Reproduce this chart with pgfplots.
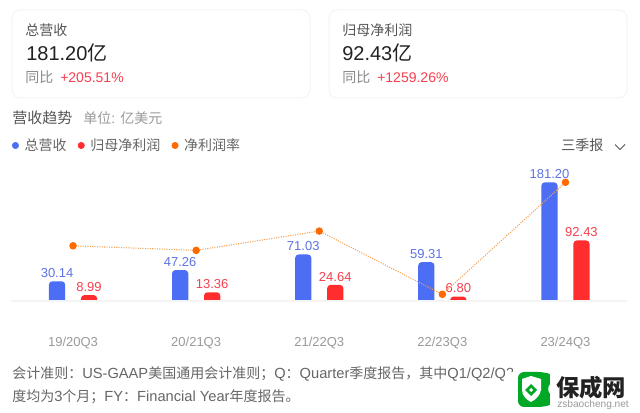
\documentclass[border=0pt]{standalone}
\usepackage{pgfplots}
\pgfplotsset{compat=1.18}
\usepackage{pgfplotstable}
\usepackage{fontspec}
\setmainfont{Liberation Sans}
\newfontfamily\cjkf{Noto Sans CJK SC}
\newcommand\zh[1]{{\cjkf\fontsize{10.5pt}{10.5pt}\selectfont #1}}
\newcommand\fsz[1]{\fontsize{#1pt}{#1pt}\selectfont}
\definecolor{cblue}{HTML}{4C6EF5}
\definecolor{cred}{HTML}{FF2D2D}
\definecolor{lblue}{HTML}{5F73E6}
\definecolor{lred}{HTML}{F5404F}
\definecolor{corange}{HTML}{FF6A00}
\definecolor{cline}{HTML}{F5A050}
\definecolor{cardb}{HTML}{F4F4F5}
\definecolor{tdark}{HTML}{222222}
\definecolor{tmid}{HTML}{555555}
\definecolor{tgrey}{HTML}{8A8A8A}
\definecolor{tlight}{HTML}{9A9A9A}
\definecolor{tfoot}{HTML}{666666}
\pgfplotstableread{
x y label
0 30.14 30.14
1 47.26 47.26
2 71.03 71.03
3 59.31 59.31
4 181.20 181.20
}\revenue
\pgfplotstableread{
x y label
0 8.99 8.99
1 13.36 13.36
2 24.64 24.64
3 6.80 6.80
4 92.43 92.43
}\profit
\pgfplotstableread{
x y
0 28.6
1 27.0
2 33.8
3 11.5
4 51.0
}\margin
\begin{document}
\begin{tikzpicture}[x=0.75pt,y=-0.75pt]
\path[use as bounding box] (0,0) rectangle (640,413);
\fill[white] (0,0) rectangle (640,413);
% cards
\draw[cardb,line width=0.75pt,rounded corners=6pt] (12,10) rectangle (310,98);
\draw[cardb,line width=0.75pt,rounded corners=6pt] (329,10) rectangle (627,98);
\node[anchor=base west,inner sep=0,text=tmid] at (25,35.5) {\zh{总营收}};
\node[anchor=base west,inner sep=0,text=tdark] at (26,61) {\fsz{15}181.20{\cjkf\fsz{15}亿}};
\node[anchor=base west,inner sep=0,text=tgrey] at (25,83) {\zh{同比}};
\node[anchor=base west,inner sep=0,text=lred] at (60,83) {\fsz{10.5}+205.51\%};
\node[anchor=base west,inner sep=0,text=tmid] at (342,35.5) {\zh{归母净利润}};
\node[anchor=base west,inner sep=0,text=tdark] at (342,61) {\fsz{15}92.43{\cjkf\fsz{15}亿}};
\node[anchor=base west,inner sep=0,text=tgrey] at (342,83) {\zh{同比}};
\node[anchor=base west,inner sep=0,text=lred] at (377,83) {\fsz{10.5}+1259.26\%};
% heading
\node[anchor=base west,inner sep=0,text=tmid] at (12,123.5) {\fsz{11.25}\cjkf 营收趋势};
\node[anchor=base west,inner sep=0,text=tlight] at (83,123.5) {\fsz{10.5}\zh{单位}: \zh{亿美元}};
\node[anchor=base west,inner sep=0,text=tmid] at (561,151) {\zh{三季报}};
\draw[tmid,line width=0.6pt] (615,144.5) -- (620,149.5) -- (625,144.5);
% bars
\begin{axis}[
  at={(8.25pt,-228.75pt)},anchor=south west,
  scale only axis,width=462pt,height=101.25pt,
  xmin=-0.504,xmax=4.5,ymin=0,ymax=206.1,
  axis lines=none,ybar,clip=false,
  y filter/.code={\pgfmathparse{\pgfmathresult+6.1}},
  nodes near coords,point meta=explicit symbolic,
  every node near coord/.append style={font=\fsz{9.75},inner sep=0pt,anchor=south,yshift=2.6pt},
]
\addplot[fill=cblue,draw=none,bar width=12.2pt,bar shift=-12pt,rounded corners=2.6pt,
  nodes near coords style={text=lblue}] table[x=x,y=y,meta=label] {\revenue};
\addplot[fill=cred,draw=none,bar width=12.2pt,bar shift=12pt,rounded corners=2.6pt,
  nodes near coords style={text=lred}] table[x=x,y=y,meta=label] {\profit};
\fill[white] (rel axis cs:0,0) rectangle (axis cs:4.5,6.1);
\end{axis}
% baseline, margin line, tick labels and legend
\begin{axis}[
  at={(8.25pt,-225.75pt)},anchor=south west,
  scale only axis,width=462pt,height=98.25pt,
  xmin=-0.504,xmax=4.5,ymin=9.14,ymax=55.34,
  clip=false,
  axis x line=bottom,axis y line=none,
  x axis line style={draw=cardb,line width=1pt,-},
  xtick={0,1,2,3,4},
  xticklabels={19/20Q3,20/21Q3,21/22Q3,22/23Q3,23/24Q3},
  major tick length=0pt,
  xticklabel style={font=\fsz{9.75},text=tlight,inner sep=0pt,anchor=base,yshift=-34pt},
  legend style={at={(0.0016,1.187)},anchor=west,draw=none,fill=none,inner sep=0pt,outer sep=0pt,
    font=\fsz{10.5},text=tfoot,legend columns=-1,
    /tikz/every odd column/.append style={column sep=2.25pt},
    /tikz/every even column/.append style={column sep=6.4pt}},
  legend cell align=left,
]
\addlegendimage{legend image code/.code={\fill[cblue] (2.25pt,0pt) circle (2.4pt);}}
\addlegendentry{\zh{总营收}}
\addlegendimage{legend image code/.code={\fill[cred] (2.25pt,0pt) circle (2.4pt);}}
\addlegendentry{\zh{归母净利润}}
\addlegendimage{legend image code/.code={\fill[corange] (2.25pt,0pt) circle (2.4pt);}}
\addlegendentry{\zh{净利润率}}
\addplot[cline,line width=0.8pt,densely dotted,mark=*,
  mark options={solid,fill=corange,draw=corange},mark size=2.4pt,forget plot]
  table[x=x,y=y] {\margin};
\end{axis}
% footer
\node[anchor=base west,inner sep=0,text=tfoot] at (12,378.5) {\fsz{11}\zh{会计准则：}US-GAAP\zh{美国通用会计准则；}Q\zh{：}Quarter\zh{季度报告，其中}Q1/Q2/Q3};
\node[anchor=base west,inner sep=0,text=tfoot] at (12,401.5) {\fsz{11}\zh{度均为}3\zh{个月；}FY\zh{：}Financial Year\zh{年度报告。}};
% watermark
\fill[white] (513,364) rectangle (640,413);
\fill[white] (505,372) rectangle (640,413);
\fill[green!60!black!85!cyan,rounded corners=4.5pt] (518,372) -- (544,372) .. controls (550,374) and (550,384) .. (546,389) .. controls (550,394) and (550,405) .. (544,407) -- (518,407) -- cycle;
\fill[white] (522,379) -- (531,376) -- (541,379) -- (541,390) .. controls (540,396) and (535,400) .. (531,402) .. controls (527,400) and (522,396) .. (522,390) -- cycle;
\fill[green!60!black!85!cyan] (531,384) -- (537,390) -- (531,396) -- (525,390) -- cycle;
\fill[white] (531,388) -- (533,390) -- (531,392) -- (529,390) -- cycle;
\node[anchor=base west,inner sep=0,text=tdark] at (556,397) {\fsz{17.5}\cjkf\bfseries 保成网};
\node[anchor=base west,inner sep=0,text=tlight] at (557,408) {\fsz{7.6}zsbaocheng.net};
\end{tikzpicture}
\end{document}
